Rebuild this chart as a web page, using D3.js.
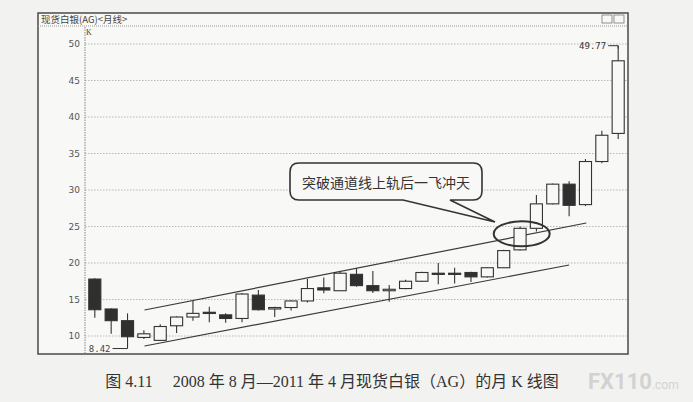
<!DOCTYPE html>
<html lang="zh">
<head>
<meta charset="UTF-8">
<title>现货白银 月K线</title>
<script src="https://d3js.org/d3.v7.min.js"></script>
<style>
  body { margin: 0; background: #f2f2f0; }
  svg { display: block; }
</style>
</head>
<body>
<div id="chart"></div>
<script>
// monthly bars, 2008-08 .. 2011-04
const months = ["2008-08","2008-09","2008-10","2008-11","2008-12","2009-01","2009-02","2009-03","2009-04","2009-05",
  "2009-06","2009-07","2009-08","2009-09","2009-10","2009-11","2009-12","2010-01","2010-02","2010-03",
  "2010-04","2010-05","2010-06","2010-07","2010-08","2010-09","2010-10","2010-11","2010-12","2011-01",
  "2011-02","2011-03","2011-04"];
const open  = [17.8,13.7,12.1,9.8,9.4,11.4,12.6,13.2,12.9,12.4,15.6,13.7,13.9,14.8,16.6,16.2,18.45,16.9,16.2,16.5,17.5,18.6,18.6,18.7,18.1,19.35,21.8,24.75,28.1,30.8,28.0,33.9,37.75];
const high  = [17.9,13.8,13.1,10.8,11.6,12.7,14.8,14.0,13.1,15.9,16.3,14.0,14.9,17.8,18.0,18.8,19.3,18.9,17.0,17.7,18.8,20.0,19.35,18.8,19.4,21.8,25.0,29.3,30.9,31.2,34.25,38.1,49.77];
const low   = [12.5,10.3,8.42,9.6,9.3,10.4,12.1,11.9,11.8,11.9,13.5,12.6,13.5,14.6,15.85,16.2,16.75,15.9,14.7,16.4,17.4,17.1,17.2,17.4,18.0,19.3,21.7,24.3,28.0,26.4,27.8,33.65,37.0];
const close = [13.6,12.1,9.9,10.3,11.3,12.6,13.1,13.25,12.4,15.75,13.6,13.9,14.8,16.5,16.3,18.6,16.9,16.2,16.4,17.5,18.7,18.6,18.6,18.1,19.35,21.7,24.75,28.1,30.8,27.9,33.9,37.5,47.7];
const yTicks = [10,15,20,25,30,35,40,45,50];

// channel lines: [month index, price]
const upperRail = [[3.04,13.56],[30.05,25.48]];
const lowerRail = [[3.04,8.63],[29.0,19.73]];

const W = 693, H = 402;
const frame = {left: 38, top: 13, right: 628, bottom: 354};
const plotLeft = 85;

const svg = d3.select("#chart").append("svg")
  .attr("width", W).attr("height", H);

// chart window
svg.append("rect")
  .attr("x", frame.left).attr("y", frame.top)
  .attr("width", frame.right - frame.left).attr("height", frame.bottom - frame.top)
  .attr("fill", "#f8f8f6").attr("stroke", "#4a4a4a").attr("stroke-width", 1.5);

svg.append("text")
  .attr("x", frame.left + 3).attr("y", frame.top + 10)
  .style("font-family", "'Noto Sans CJK SC', sans-serif").style("font-size", "9.5px")
  .attr("fill", "#444").text("现货白银(AG)<月线>");

svg.append("line")
  .attr("x1", frame.left).attr("x2", frame.right)
  .attr("y1", frame.top + 13).attr("y2", frame.top + 13)
  .attr("stroke", "#999").attr("stroke-dasharray", "1,1");

// little window buttons top right
[0, 1].forEach(i => {
  svg.append("rect")
    .attr("x", 602 + i * 12).attr("y", frame.top + 2)
    .attr("width", 10).attr("height", 8)
    .attr("fill", "none").attr("stroke", "#777").attr("stroke-width", 0.8);
});

// scales
const x = d3.scaleBand()
  .domain(months)
  .range([plotLeft, frame.right])
  .padding(0.2);
const xi = d3.scaleLinear()
  .domain([0, months.length - 1])
  .range([x(months[0]) + x.bandwidth() / 2, x(months[months.length - 1]) + x.bandwidth() / 2]);
const y = d3.scaleLinear().domain([10, 50]).range([336, 44]);

// gridlines
svg.append("g")
  .selectAll("line")
  .data(yTicks)
  .join("line")
    .attr("x1", plotLeft).attr("x2", frame.right)
    .attr("y1", d => y(d)).attr("y2", d => y(d))
    .attr("stroke", "#b8b8b8").attr("stroke-dasharray", "1.5,1.5");

// y axis
const yAxis = svg.append("g")
  .attr("transform", `translate(${plotLeft},0)`)
  .call(d3.axisLeft(y).tickValues(yTicks).tickSize(0).tickPadding(5));
yAxis.select(".domain")
  .attr("d", `M0,${frame.top + 14}V${frame.bottom}`)
  .attr("stroke", "#888").attr("stroke-dasharray", "1.5,1");
yAxis.selectAll("text")
  .style("font-family", "'DejaVu Sans', sans-serif").style("font-size", "9px")
  .attr("fill", "#555");

svg.append("text")
  .attr("x", plotLeft + 1).attr("y", frame.top + 22)
  .style("font-family", "'Liberation Serif', serif").style("font-size", "8px")
  .attr("fill", "#444").text("K");

// channel rails
const rail = d3.line().x(d => xi(d[0])).y(d => y(d[1]));
[upperRail, lowerRail].forEach(r => {
  svg.append("path").attr("d", rail(r))
    .attr("fill", "none").attr("stroke", "#3a3a3a").attr("stroke-width", 1.2);
});

// candles
const bars = months.map((m, i) => ({m, o: open[i], h: high[i], l: low[i], c: close[i]}));
const cx = d => x(d.m) + x.bandwidth() / 2;
const candle = svg.append("g").selectAll("g").data(bars).join("g");

candle.append("line")
  .attr("x1", cx).attr("x2", cx)
  .attr("y1", d => y(d.h)).attr("y2", d => y(d.l))
  .attr("stroke", "#333").attr("stroke-width", 1.1);

candle.append("rect")
  .attr("x", d => x(d.m) + 0.5)
  .attr("width", x.bandwidth() - 1)
  .attr("y", d => y(Math.max(d.o, d.c)))
  .attr("height", d => Math.max(1.2, Math.abs(y(d.o) - y(d.c))))
  .attr("fill", d => d.c < d.o ? "#2f2f2f" : (Math.abs(d.c - d.o) < 0.1 ? "#333" : "#f8f8f6"))
  .attr("stroke", "#333").attr("stroke-width", 1.1);

// low / high markers
const lowIdx = d3.minIndex(low), highIdx = d3.maxIndex(high);
const lowY = y(low[lowIdx]), lowX = xi(lowIdx);
svg.append("path")
  .attr("d", `M${lowX - 15},${lowY + 1}H${lowX}V${lowY - 3}`)
  .attr("fill", "none").attr("stroke", "#333");
svg.append("text")
  .attr("x", lowX - 17).attr("y", lowY + 4.5).attr("text-anchor", "end")
  .style("font-family", "'DejaVu Sans Mono', monospace").style("font-size", "9px")
  .attr("fill", "#444").text(low[lowIdx].toFixed(2));

const hiY = y(high[highIdx]), hiX = xi(highIdx);
svg.append("path")
  .attr("d", `M${hiX - 10},${hiY}H${hiX}V${hiY + 3}`)
  .attr("fill", "none").attr("stroke", "#333");
svg.append("text")
  .attr("x", hiX - 12).attr("y", hiY + 3.5).attr("text-anchor", "end")
  .style("font-family", "'DejaVu Sans Mono', monospace").style("font-size", "9px")
  .attr("fill", "#333").text(high[highIdx].toFixed(2));

// breakout ellipse
svg.append("ellipse")
  .attr("cx", xi(26.1)).attr("cy", y(24.0))
  .attr("rx", 28).attr("ry", 12.5)
  .attr("fill", "none").attr("stroke", "#333").attr("stroke-width", 2);

// callout bubble
const bx0 = 290, bx1 = 482, by0 = 163, by1 = 200, r = 9;
const tipX = 495, tipY = 222;
svg.append("path")
  .attr("d", `M${bx0 + r},${by0}H${bx1 - r}Q${bx1},${by0} ${bx1},${by0 + r}V${by1 - r}Q${bx1},${by1} ${bx1 - r},${by1}`
    + `H450L${tipX},${tipY}L403,${by1}H${bx0 + r}Q${bx0},${by1} ${bx0},${by1 - r}V${by0 + r}Q${bx0},${by0} ${bx0 + r},${by0}Z`)
  .attr("fill", "#f8f8f6").attr("stroke", "#333").attr("stroke-width", 1.6);
svg.append("text")
  .attr("x", (bx0 + bx1) / 2).attr("y", 188).attr("text-anchor", "middle")
  .style("font-family", "'Noto Sans CJK SC', sans-serif").style("font-size", "14px")
  .attr("fill", "#333").text("突破通道线上轨后一飞冲天");

// caption
svg.append("text")
  .attr("x", 332).attr("y", 387).attr("text-anchor", "middle")
  .style("font-family", "'Liberation Serif', 'Noto Sans CJK SC', serif").style("font-size", "16px")
  .attr("fill", "#333")
  .text("图 4.11\u2003 2008 年 8 月—2011 年 4 月现货白银（AG）的月 K 线图");

// watermark
const wm = svg.append("text").attr("x", 588).attr("y", 389)
  .style("font-family", "Roboto, sans-serif").attr("fill", "#d2d2d2");
wm.append("tspan").style("font-size", "22px").style("font-weight", "bold").text("FX110");
wm.append("tspan").style("font-size", "12px").text(".com");
</script>
</body>
</html>
